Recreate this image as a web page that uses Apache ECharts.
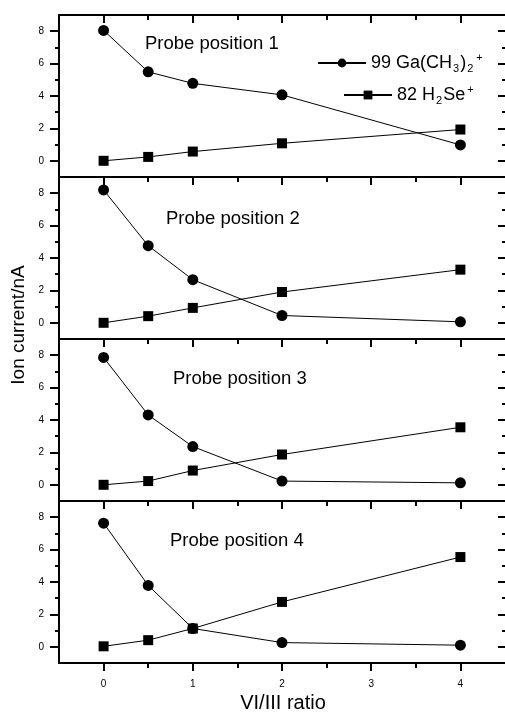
<!DOCTYPE html>
<html>
<head>
<meta charset="utf-8">
<script src="https://cdn.jsdelivr.net/npm/echarts@6/dist/echarts.min.js"></script>
<style>
  html, body { margin: 0; padding: 0; background: #fff; }
  #chart { width: 505px; height: 715px; }
</style>
</head>
<body>
<div id="chart"></div>
<script>
// 数据：四个探针位置，两条曲线
var ratios = [0, 0.5, 1, 2, 4];
var gaP1 = [8.05, 5.49, 4.78, 4.07, 0.98];
var seP1 = [0, 0.24, 0.57, 1.08, 1.93];
var gaP2 = [8.2, 4.76, 2.66, 0.45, 0.06];
var seP2 = [0, 0.41, 0.92, 1.9, 3.28];
var gaP3 = [7.86, 4.31, 2.36, 0.23, 0.12];
var seP3 = [0, 0.23, 0.88, 1.87, 3.55];
var gaP4 = [7.63, 3.79, 1.13, 0.26, 0.1];
var seP4 = [0.03, 0.41, 1.13, 2.77, 5.54];
var panelTitles = ['Probe position 1', 'Probe position 2', 'Probe position 3', 'Probe position 4'];
var xMajor = [0, 1, 2, 3, 4];
var xMinor = [0.5, 1.5, 2.5, 3.5];
var yMajor = [0, 2, 4, 6, 8];
var yMinor = [1, 3, 5, 7];

var gaName = '99 Ga(CH3)2+';
var seName = '82 H2Se+';
var gaSets = [gaP1, gaP2, gaP3, gaP4];
var seSets = [seP1, seP2, seP3, seP4];

var myChart = echarts.init(document.getElementById('chart'));
var font = 'Liberation Sans, Arial, sans-serif';

var grids = [], xAxes = [], yAxes = [], series = [], titles = [];
var tops = [15, 177, 339, 501];
var titlePos = [[145, 34], [166, 209], [173, 369], [170, 531]];

function pairs(ys) {
    return ratios.map(function (x, i) { return [x, ys[i]]; });
}

function xAx(g, pos, vals, len, inside, withLabel, showLine) {
    xAxes.push({
        type: 'value', gridIndex: g, position: pos, min: -0.5, max: 4.5,
        axisLine: { show: showLine, onZero: false, lineStyle: { color: '#000', width: 2 } },
        axisTick: { show: true, inside: inside, length: len, customValues: vals, lineStyle: { color: '#000', width: 2 } },
        axisLabel: { show: withLabel, customValues: vals, color: '#000', fontSize: 10, fontFamily: font, margin: 16 },
        splitLine: { show: false }
    });
    return xAxes.length - 1;
}

function yAx(g, pos, vals, len, inside, withLabel, showLine) {
    yAxes.push({
        type: 'value', gridIndex: g, position: pos, min: -1, max: 9,
        axisLine: { show: showLine, onZero: false, lineStyle: { color: '#000', width: 2 } },
        axisTick: { show: true, inside: inside, length: len, customValues: vals, lineStyle: { color: '#000', width: 2 } },
        axisLabel: { show: withLabel, customValues: vals, color: '#000', fontSize: 10, fontFamily: font, margin: 15 },
        splitLine: { show: false }
    });
    return yAxes.length - 1;
}

for (var g = 0; g < 4; g++) {
    grids.push({ left: 59, top: tops[g], width: 448, height: 162 });
    var xi = xAx(g, 'top', xMajor, 8, true, false, true);
    xAx(g, 'top', xMinor, 5, true, false, false);
    if (g === 3) {
        xAx(g, 'bottom', xMajor, 8, false, true, true);
        xAx(g, 'bottom', xMinor, 5, false, false, false);
    }
    var yi = yAx(g, 'left', yMajor, 9, false, true, true);
    yAx(g, 'left', yMinor, 4, false, false, false);
    yAx(g, 'right', yMajor, 7, true, false, false);
    yAx(g, 'right', yMinor, 3, true, false, false);

    series.push({
        name: gaName, type: 'line', xAxisIndex: xi, yAxisIndex: yi,
        data: pairs(gaSets[g]), symbol: 'circle', symbolSize: 11,
        itemStyle: { color: '#000' }, lineStyle: { color: '#000', width: 1 }
    });
    series.push({
        name: seName, type: 'line', xAxisIndex: xi, yAxisIndex: yi,
        data: pairs(seSets[g]), symbol: 'rect', symbolSize: 10,
        itemStyle: { color: '#000' }, lineStyle: { color: '#000', width: 1 }
    });

    titles.push({
        text: panelTitles[g], left: titlePos[g][0], top: titlePos[g][1], padding: 0,
        textStyle: { color: '#000', fontSize: 18.5, fontWeight: 'normal', fontFamily: font }
    });
}

var rich = {
    t: { fontSize: 18, fontFamily: font, color: '#000', lineHeight: 22 },
    sub: { fontSize: 11, fontFamily: font, color: '#000', verticalAlign: 'bottom', lineHeight: 22, padding: [0, 1, 0, 1] },
    sup: { fontSize: 11, fontFamily: font, color: '#000', verticalAlign: 'top', lineHeight: 22, padding: [0, 0, 0, 2] }
};

var option = {
    animation: false,
    title: titles,
    grid: grids,
    xAxis: xAxes,
    yAxis: yAxes,
    legend: [
        {
            data: [gaName], left: 317, top: 52, padding: 0,
            itemWidth: 48, itemHeight: 11, itemGap: 0,
            formatter: function () { return '{t|99 Ga(CH}{sub|3}{t|)}{sub|2}{sup|+}'; },
            textStyle: { rich: rich }
        },
        {
            data: [seName], left: 343, top: 84, padding: 0,
            itemWidth: 48, itemHeight: 11, itemGap: 0,
            formatter: function () { return '{t|82 H}{sub|2}{t|Se}{sup|+}'; },
            textStyle: { rich: rich }
        }
    ],
    graphic: [
        {
            type: 'text', x: 19, y: 325, rotation: Math.PI / 2,
            style: { text: 'Ion current/nA', fontSize: 19, fontFamily: font, fill: '#000', textAlign: 'center', textVerticalAlign: 'middle' }
        },
        {
            type: 'text', x: 283, y: 703,
            style: { text: 'VI/III ratio', fontSize: 20, fontFamily: font, fill: '#000', textAlign: 'center', textVerticalAlign: 'middle' }
        }
    ],
    series: series
};

myChart.setOption(option);
</script>
</body>
</html>
